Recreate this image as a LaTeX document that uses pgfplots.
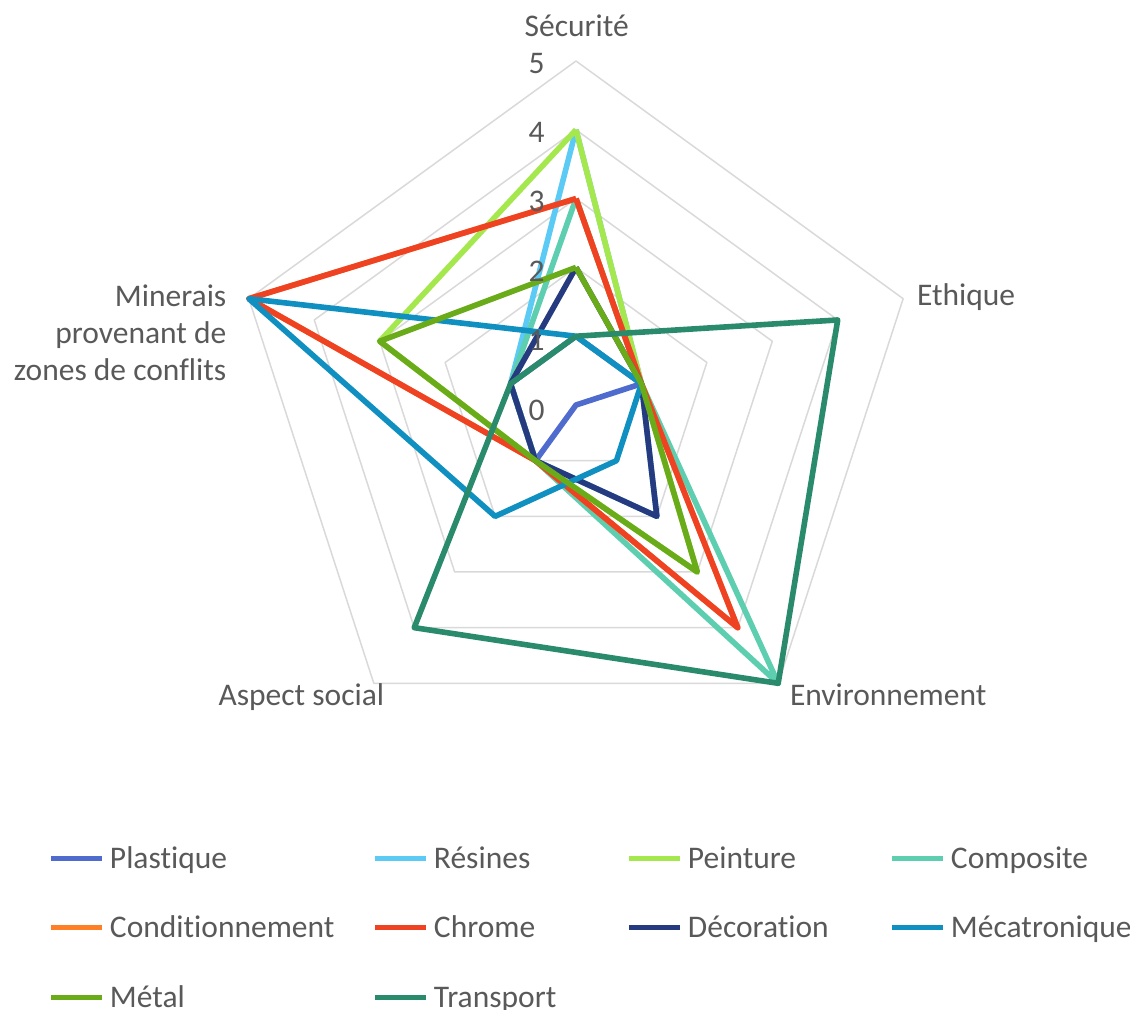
\documentclass[border=0pt]{standalone}
\usepackage{pgfplots}
\pgfplotsset{compat=1.18}
\usepackage{pgfplotstable}
\usepgfplotslibrary{polar}
\usepackage{fontspec}
\setmainfont{Carlito}[Ligatures=NoCommon]

\definecolor{txt}{HTML}{595959}
\definecolor{gridc}{HTML}{D9D9D9}
\definecolor{cPlastique}{HTML}{4F6BCE}
\definecolor{cResines}{HTML}{5BCBF5}
\definecolor{cPeinture}{HTML}{A5E84E}
\definecolor{cComposite}{HTML}{5DCEAF}
\definecolor{cCond}{HTML}{FF7F27}
\definecolor{cChrome}{HTML}{EE4223}
\definecolor{cDeco}{HTML}{263A80}
\definecolor{cMeca}{HTML}{1090C0}
\definecolor{cMetal}{HTML}{6AAB1A}
\definecolor{cTransport}{HTML}{2A8A6C}

% angle: Securite 90, Ethique 18, Environnement -54, Aspect social -126, Minerais 162
\pgfplotstableread{
angle Plastique Resines Peinture Composite Cond Chrome Deco Meca Metal Transport
90    1 4 4 3 3 3 2 1 2 1
18    1 1 1 1 1 1 1 1 1 4
-54   0 2 3 5 4 4 2 1 3 5
-126  1 1 1 1 1 1 1 2 1 4
162   1 1 3 1 5 5 1 5 3 1
450   1 4 4 3 3 3 2 1 2 1
}\radar

\begin{document}
\begin{tikzpicture}[font=\fontsize{15.75}{19}\selectfont]
\begin{polaraxis}[
  scale only axis, width=344pt, height=344pt,
  ymin=0, ymax=5,
  hide axis, clip=false,
  legend columns=4,
  legend cell align=left,
  legend image code/.code={\draw[#1,line width=2.5pt] (0pt,0pt) -- (25.5pt,0pt);},
  legend style={draw=none, fill=none, inner sep=0pt, outer sep=0pt,
    at={([shift={(-263.5pt,-218.5pt)}]axis cs:0,0)}, anchor=north west,
    column sep=0pt, row sep=18.75pt,
    nodes={inner xsep=2.5pt, inner ysep=0pt, text height=13pt, text depth=3pt,
      text=txt, align=left, font=\fontsize{15.75}{19}\selectfont}},
  every axis plot/.append style={line width=2.8pt, line join=round, no markers},
]
\addplot[gridc, line width=0.75pt, forget plot] coordinates {(90,1)(18,1)(-54,1)(-126,1)(162,1)(450,1)};
\addplot[gridc, line width=0.75pt, forget plot] coordinates {(90,2)(18,2)(-54,2)(-126,2)(162,2)(450,2)};
\addplot[gridc, line width=0.75pt, forget plot] coordinates {(90,3)(18,3)(-54,3)(-126,3)(162,3)(450,3)};
\addplot[gridc, line width=0.75pt, forget plot] coordinates {(90,4)(18,4)(-54,4)(-126,4)(162,4)(450,4)};
\addplot[gridc, line width=0.75pt, forget plot] coordinates {(90,5)(18,5)(-54,5)(-126,5)(162,5)(450,5)};

\addplot[cPlastique] table[x=angle, y=Plastique] {\radar};
\addlegendentry[text width=129pt]{Plastique}
\addplot[cResines] table[x=angle, y=Resines] {\radar};
\addlegendentry[text width=94pt]{Résines}
\addplot[cPeinture] table[x=angle, y=Peinture] {\radar};
\addlegendentry[text width=98.5pt]{Peinture}
\addplot[cComposite] table[x=angle, y=Composite] {\radar};
\addlegendentry{Composite}
\addplot[cCond] table[x=angle, y=Cond] {\radar};
\addlegendentry[text width=129pt]{Conditionnement}
\addplot[cChrome] table[x=angle, y=Chrome] {\radar};
\addlegendentry[text width=94pt]{Chrome}
\addplot[cDeco] table[x=angle, y=Deco] {\radar};
\addlegendentry[text width=98.5pt]{Décoration}
\addplot[cMeca] table[x=angle, y=Meca] {\radar};
\addlegendentry{Mécatronique}
\addplot[cMetal] table[x=angle, y=Metal] {\radar};
\addlegendentry[text width=129pt]{Métal}
\addplot[cTransport] table[x=angle, y=Transport] {\radar};
\addlegendentry[text width=94pt]{Transport}

\coordinate (C) at (axis cs:0,0);
\end{polaraxis}

\begin{scope}[every node/.style={text=txt, inner sep=0pt}]
\node[anchor=base] at ([shift={(0.35pt,184.2pt)}]C) {Sécurité};
\node[anchor=base west] at ([shift={(170.3pt,50pt)}]C) {Ethique};
\node[anchor=base west] at ([shift={(106.8pt,-150pt)}]C) {Environnement};
\node[anchor=base east] at ([shift={(-95.7pt,-150pt)}]C) {Aspect social};
\node[anchor=base east] at ([shift={(-174.65pt,49.15pt)}]C) {Minerais};
\node[anchor=base east] at ([shift={(-174.65pt,30.8pt)}]C) {provenant de};
\node[anchor=base east] at ([shift={(-174.65pt,12.5pt)}]C) {zones de conflits};
\foreach \v in {0,...,5}{
  \pgfmathsetmacro{\yy}{34.67*\v-7.5}
  \node[anchor=base] at ([shift={(-19.65pt,\yy pt)}]C) {\v};
}
\end{scope}

\pgfresetboundingbox
\path ([shift={(-288pt,-302pt)}]C) rectangle ([shift={(277pt,202.5pt)}]C);
\end{tikzpicture}
\end{document}
